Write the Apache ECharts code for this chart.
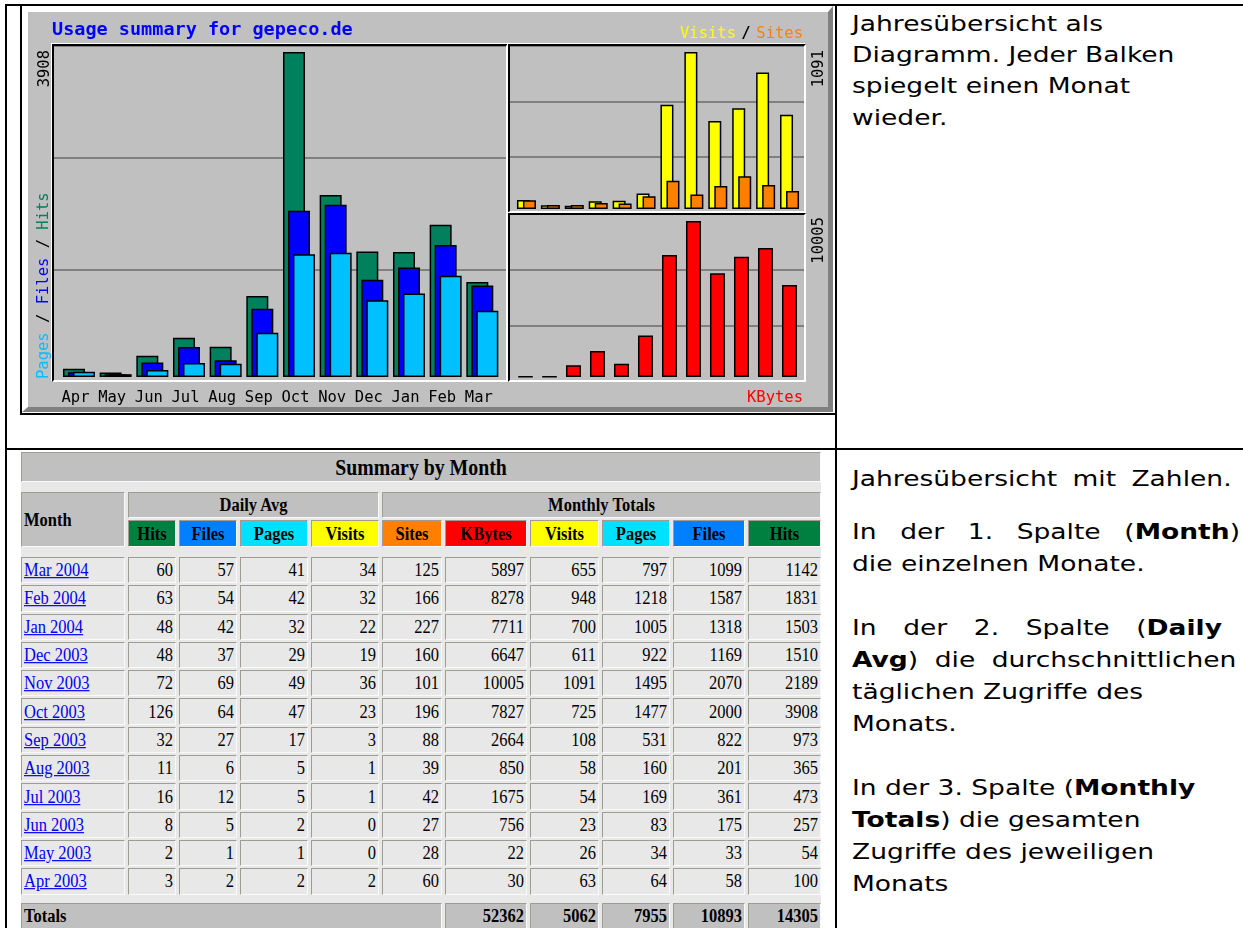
<!DOCTYPE html>
<html><head><meta charset="utf-8">
<script src="https://cdn.jsdelivr.net/npm/echarts@6/dist/echarts.min.js"></script>
<style>
html,body{margin:0;padding:0;background:#fff;width:1243px;height:928px;overflow:hidden;position:relative;}
.ln{position:absolute;background:#000;z-index:5;}
#img{position:absolute;left:22px;top:6px;width:811px;height:406px;box-sizing:border-box;background:#c0c0c0;border-style:solid;border-width:6px 5px 5px 6px;border-color:#fff #808080 #808080 #fff;z-index:1;}
#chart{position:absolute;left:0;top:0;width:840px;height:420px;z-index:2;}
.fr{position:absolute;box-sizing:border-box;border-style:solid;border-width:2px;border-color:#000 #fff #fff #000;box-shadow:-1px -1px 0 #fff;z-index:3;}
#tbl{position:absolute;left:21px;top:452px;display:grid;grid-template-columns:104px 48px 58px 68px 68px 60px 82px 69px 68px 72px 73px;column-gap:3px;row-gap:2px;grid-template-rows:30px 6px 26px 27px 6px repeat(12,26.3px) 4.4px 26px;background:#e8e8e8;font-family:'Liberation Serif','Times New Roman',serif;font-size:16.5px;color:#000;}
.c{box-sizing:border-box;border:1px solid;border-color:#a09c94 #fafafa #fafafa #a09c94;display:flex;align-items:center;justify-content:flex-end;padding:0 2px;white-space:nowrap;background:#e8e8e8;}
.c span{display:inline-block;transform:scaleY(1.18);}
.c a{color:#0000ee;text-decoration:underline;}
.h{background:#c0c0c0;font-weight:bold;justify-content:center;}
.lft{justify-content:flex-start;}
.ttl{font-size:19.8px;}
.tot{background:#c0c0c0;font-weight:bold;}
#txt{position:absolute;left:852px;top:0;width:322px;height:928px;transform-origin:0 0;transform:scaleX(1.205);font-family:'DejaVu Sans',Verdana,sans-serif;font-size:22px;color:#000;}
.tl{position:absolute;left:0;white-space:nowrap;line-height:31.7px;height:31.7px;}
.j{text-align:justify;text-align-last:justify;white-space:normal;}
</style>
</head><body>
<div class="ln" style="left:5px;top:4px;width:1238px;height:2px"></div>
<div class="ln" style="left:5px;top:4px;width:2px;height:924px"></div>
<div class="ln" style="left:835px;top:4px;width:2px;height:924px"></div>
<div class="ln" style="left:5px;top:448px;width:1238px;height:2px"></div>
<div class="ln" style="left:20px;top:4px;width:2px;height:411px"></div>
<div class="ln" style="left:20px;top:413px;width:817px;height:2px"></div>
<div id="img"></div>
<div id="chart"></div>
<div class="fr" style="left:52px;top:44px;width:456px;height:338px"></div>
<div class="fr" style="left:508px;top:44px;width:298px;height:169px"></div>
<div class="fr" style="left:508px;top:213px;width:298px;height:169px"></div>
<div id="tbl"></div>
<div id="txt">
<div class="tl" style="top:7.6px">Jahresübersicht als</div>
<div class="tl" style="top:38.9px">Diagramm. Jeder Balken</div>
<div class="tl" style="top:70.2px">spiegelt einen Monat</div>
<div class="tl" style="top:101.5px">wieder.</div>
<div class="tl j" style="top:462.6px;width:315px">Jahresübersicht mit Zahlen.</div>
<div class="tl j" style="top:515.6px;width:322px">In der 1. Spalte (<b>Month</b>)</div>
<div class="tl" style="top:547.6px">die einzelnen Monate.</div>
<div class="tl j" style="top:611.6px;width:307px">In der 2. Spalte (<b>Daily</b></div>
<div class="tl j" style="top:643.6px;width:319px"><b>Avg</b>) die durchschnittlichen</div>
<div class="tl" style="top:675.6px">täglichen Zugriffe des</div>
<div class="tl" style="top:707.6px">Monats.</div>
<div class="tl" style="top:771.6px">In der 3. Spalte (<b>Monthly</b></div>
<div class="tl" style="top:803.6px"><b>Totals</b>) die gesamten</div>
<div class="tl" style="top:835.6px">Zugriffe des jeweiligen</div>
<div class="tl" style="top:867.6px">Monats</div>
</div>
<script>
// ---- data (chart order: Apr 2003 .. Mar 2004) ----
const months = ['Apr','May','Jun','Jul','Aug','Sep','Oct','Nov','Dec','Jan','Feb','Mar'];
const tableMonths = ['Apr 2003','May 2003','Jun 2003','Jul 2003','Aug 2003','Sep 2003','Oct 2003','Nov 2003','Dec 2003','Jan 2004','Feb 2004','Mar 2004'];
const hits   = [100, 54, 257, 473, 365, 973, 3908, 2189, 1510, 1503, 1831, 1142];
const files  = [58, 33, 175, 361, 201, 822, 2000, 2070, 1169, 1318, 1587, 1099];
const pages  = [64, 34, 83, 169, 160, 531, 1477, 1495, 922, 1005, 1218, 797];
const visits = [63, 26, 23, 54, 58, 108, 725, 1091, 611, 700, 948, 655];
const sites  = [60, 28, 27, 42, 39, 88, 196, 101, 160, 227, 166, 125];
const kbytes = [30, 22, 756, 1675, 850, 2664, 7827, 10005, 6647, 7711, 8278, 5897];
const dailyHits   = [3, 2, 8, 16, 11, 32, 126, 72, 48, 48, 63, 60];
const dailyFiles  = [2, 1, 5, 12, 6, 27, 64, 69, 37, 42, 54, 57];
const dailyPages  = [2, 1, 2, 5, 5, 17, 47, 49, 29, 32, 42, 41];
const dailyVisits = [2, 0, 0, 1, 1, 3, 23, 36, 19, 22, 32, 34];
const totalsLabels = ['KBytes','Visits','Pages','Files','Hits'];
const totals = [52362, 5062, 7955, 10893, 14305];
const gridThirds = [0, 1, 2, 3];

// ---- table ----
const tbl = document.getElementById('tbl');
function cell(cls, row, col, colspan, rowspan, html, bg) {
  const d = document.createElement('div');
  d.className = 'c ' + cls;
  d.style.gridRow = row + ' / span ' + (rowspan || 1);
  d.style.gridColumn = col + ' / span ' + (colspan || 1);
  if (bg) d.style.background = bg;
  d.innerHTML = '<span>' + html + '</span>';
  tbl.appendChild(d);
}
const tc = {hits:'#008040', files:'#0080ff', pages:'#00e0ff', visits:'#ffff00', sites:'#ff8000', kbytes:'#ff0000'};
cell('h ttl', 1, 1, 11, 1, 'Summary by Month');
cell('h lft', 3, 1, 1, 2, 'Month');
cell('h', 3, 2, 4, 1, 'Daily Avg');
cell('h', 3, 6, 6, 1, 'Monthly Totals');
const hdr = [['Hits',tc.hits],['Files',tc.files],['Pages',tc.pages],['Visits',tc.visits],['Sites',tc.sites],['KBytes',tc.kbytes],['Visits',tc.visits],['Pages',tc.pages],['Files',tc.files],['Hits',tc.hits]];
hdr.forEach((h, i) => cell('h', 4, i + 2, 1, 1, h[0], h[1]));
for (let r = 0; r < 12; r++) {
  const i = 11 - r, row = 6 + r;
  cell('lft', row, 1, 1, 1, '<a href="#">' + tableMonths[i] + '</a>');
  [dailyHits[i], dailyFiles[i], dailyPages[i], dailyVisits[i], sites[i], kbytes[i], visits[i], pages[i], files[i], hits[i]]
    .forEach((v, k) => cell('', row, k + 2, 1, 1, String(v)));
}
cell('tot lft', 19, 1, 6, 1, 'Totals');
totals.forEach((v, k) => cell('tot', 19, k + 7, 1, 1, String(v)));

// ---- chart ----
const chart = echarts.init(document.getElementById('chart'), null, {renderer: 'canvas'});
const G = (l, t, w, h) => ({left: l, top: t, width: w, height: h, containLabel: false, outerBoundsMode: 'none', show: false});
const frameX = i => ({type: 'value', gridIndex: i, show: false, min: 0, max: 1});
const frameY = i => ({type: 'value', gridIndex: i, min: gridThirds[0], max: gridThirds[3], interval: 1,
  axisLine: {show: false}, axisTick: {show: false}, axisLabel: {show: false},
  splitLine: {show: true, lineStyle: {color: '#808080', width: 2}}});
const catX = (i, lbl) => ({type: 'category', gridIndex: i, data: months, show: !!lbl,
  axisLine: {show: false}, axisTick: {show: false}, splitLine: {show: false},
  axisLabel: {show: !!lbl, interval: 0, margin: 13, fontFamily: 'DejaVu Sans Mono', fontSize: 15.5, color: '#000', padding: [0, 7, 0, 0]}});
const valY = (i, max) => ({type: 'value', gridIndex: i, min: 0, max: max, show: false});
const bar = (xi, data, color, w, gap) => ({type: 'bar', xAxisIndex: xi, yAxisIndex: xi, data: data, barWidth: w, barGap: gap,
  silent: true, itemStyle: {color: color, borderColor: '#000', borderWidth: 1.5}});
const maxHits = Math.max(...hits), maxVisits = Math.max(...visits), maxK = Math.max(...kbytes);
const mono = '"DejaVu Sans Mono", monospace';
const T = (text, x, y, fill, opts) => Object.assign({type: 'text', x: x, y: y, z: 10, silent: true,
  style: Object.assign({text: text, fill: fill, font: '15.5px ' + mono, align: 'left', verticalAlign: 'middle'}, (opts && opts.style) || {})},
  opts && opts.rotation ? {rotation: opts.rotation} : {});
chart.setOption({
  animation: false,
  grid: [G(54, 46, 452, 335), G(60.65, 52, 440, 325), G(510, 46, 294, 166), G(514.5, 52, 287, 157), G(510, 214, 294, 167), G(513.5, 221, 288, 156)],
  xAxis: [frameX(0), catX(1, true), frameX(2), catX(3, false), frameX(4), catX(5, false)],
  yAxis: [frameY(0), valY(1, maxHits), frameY(2), valY(3, maxVisits), frameY(4), valY(5, maxK)],
  series: [
    bar(1, hits, '#00805c', 22, '-77.27%'),
    bar(1, files, '#0000ff', 22, '-77.27%'),
    bar(1, pages, '#00c0ff', 22, '-77.27%'),
    bar(3, visits, '#ffff00', 13, '-53.8%'),
    bar(3, sites, '#ff8000', 13, '-53.8%'),
    bar(5, kbytes, '#ff0000', 15, '0%')
  ],
  graphic: {elements: [
    T('Usage summary for gepeco.de', 52, 30, '#0000ff', {style: {font: 'bold 18.5px ' + mono}}),
    T('Sites', 803, 34, '#ff8000', {style: {align: 'right'}}),
    T('/', 746, 34, '#000', {style: {align: 'center', font: 'bold 15.5px ' + mono}}),
    T('Visits', 736, 34, '#ffff00', {style: {align: 'right'}}),
    T('KBytes', 803, 398, '#ff0000', {style: {align: 'right'}}),
    T(String(maxHits), 45, 50, '#000', {rotation: Math.PI / 2, style: {align: 'right'}}),
    T(String(maxVisits), 819, 50, '#000', {rotation: Math.PI / 2, style: {align: 'right'}}),
    T(String(maxK), 819, 217, '#000', {rotation: Math.PI / 2, style: {align: 'right'}}),
    T('{p|Pages} / {f|Files} / {h|Hits}', 44, 379, '#000', {rotation: Math.PI / 2, style: {align: 'left',
      rich: {p: {fill: '#00c0ff', font: '15.5px ' + mono}, f: {fill: '#0000ff', font: '15.5px ' + mono}, h: {fill: '#00805c', font: '15.5px ' + mono}}}})
  ]}
});
</script>
</body></html>
